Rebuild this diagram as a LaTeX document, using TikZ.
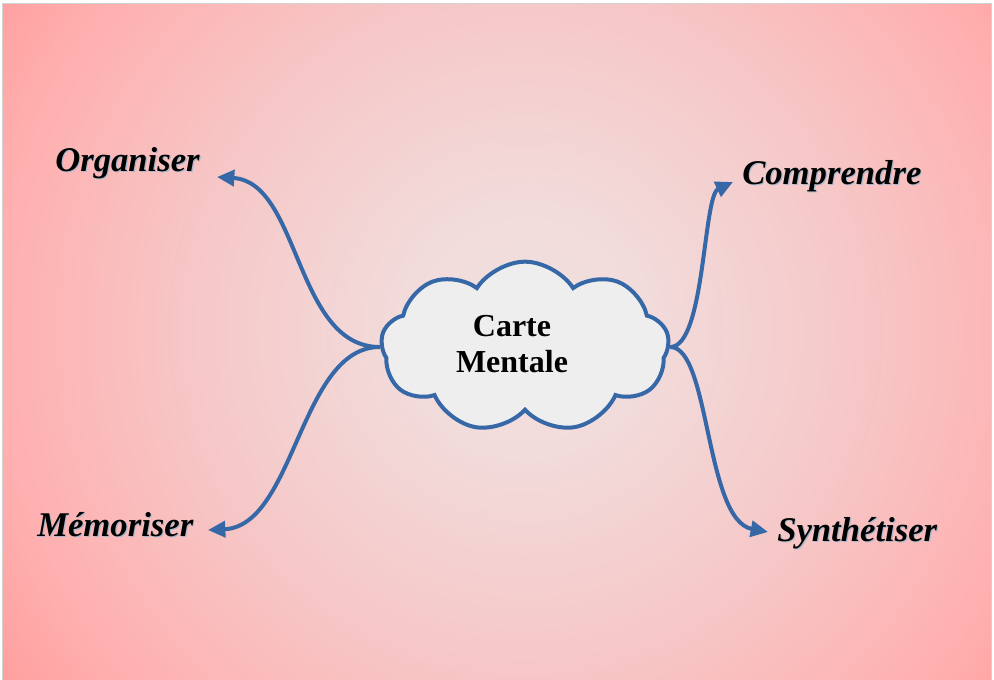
\documentclass[tikz,border=0pt]{standalone}
\usepackage{fontspec}
\setmainfont{Liberation Serif}
\usepackage{tikz}
\usetikzlibrary{shapes.symbols,arrows.meta}

\definecolor{bgin}{HTML}{F2E0E0}
\definecolor{bglight}{HTML}{F2DBDB}
\definecolor{bgmid}{HTML}{F6C8C8}
\definecolor{bgedge}{HTML}{FFB0B0}
\definecolor{bgout}{HTML}{FFA0A0}
\definecolor{linkblue}{HTML}{3668A8}
\definecolor{cloudfill}{HTML}{EEEEEE}
\definecolor{lblshadow}{HTML}{A8B8CC}
% 1bp = 25px once the square is stretched on the picture
\pgfdeclareradialshading{bgshade}{\pgfpoint{0bp}{0bp}}{color(0bp)=(bgin); color(5bp)=(bglight); color(13bp)=(bgmid); color(21bp)=(bgedge); color(25bp)=(bgout); color(40bp)=(bgout)}
\newcommand{\shadowed}[1]{\makebox[0pt][l]{\hspace{0.9pt}\raisebox{-0.9pt}{\color{lblshadow}#1}}#1}

\begin{document}
\begin{tikzpicture}[x=0.75pt,y=-0.75pt,
  link/.style={linkblue,line width=3pt,-{Triangle[length=13pt,width=12pt]}},
  idee/.style={font=\fontsize{26}{30}\selectfont\bfseries\itshape,inner sep=0pt,anchor=base west},
  nuage/.style={cloud,cloud puffs=9,cloud puff arc=115,draw=linkblue,fill=cloudfill,line width=3pt,minimum width=216pt,minimum height=128pt,inner sep=0pt}]
\useasboundingbox (0,0) rectangle (994,679);
\begin{scope}
  \clip (2,3) rectangle (991,680);
  \shade[shading=bgshade] (-100,-295) rectangle (1150,955);
\end{scope}
\draw[gray!35,line width=0.75pt] (2,680) -- (2,3) -- (991,3) -- (991,680);
% the cloud
\node[nuage] (nuage) at (525,347) {};
\node[font=\fontsize{24}{27}\selectfont\bfseries,align=center] (carte) at (512,344) {Carte\\Mentale};
% the four ideas
\foreach \nm/\x/\y/\txt in {org/55/171/Organiser, mem/37/536/Mémoriser, comp/742/184/Comprendre, synth/777/541/Synthétiser}{
  \node[idee] (\nm) at (\x,\y) {\shadowed{\txt}};
}
\coordinate (tipO) at (217,177);
\coordinate (tipM) at (208,530);
\coordinate (tipC) at (733,182);
\coordinate (tipS) at (768,532);
\draw[link] (nuage.west) .. controls (295,347) and (300,182) .. (tipO);
\draw[link] (nuage.west) .. controls (300,347) and (295,526) .. (tipM);
\draw[link] (nuage.east) .. controls (705,347) and (703,196) .. (tipC);
\draw[link] (nuage.east) .. controls (710,347) and (705,520) .. (tipS);
\end{tikzpicture}
\end{document}
